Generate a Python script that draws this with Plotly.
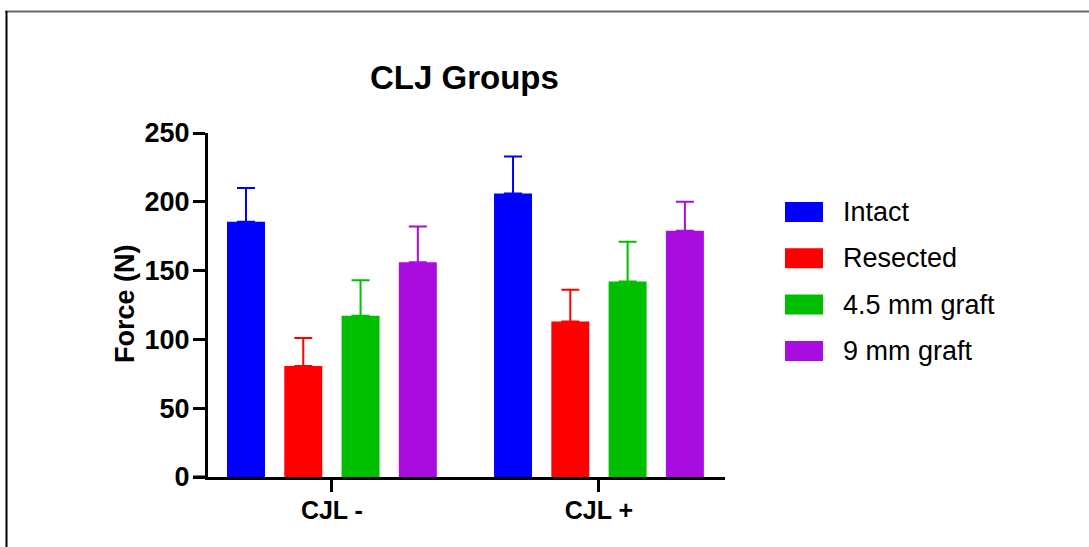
import plotly.graph_objects as go

categories = ["CJL -", "CJL +"]
series_names = ["Intact", "Resected", "4.5 mm graft", "9 mm graft"]
intact = [185.5, 206.0]
resected = [80.7, 113.0]
graft_45 = [117.2, 142.0]
graft_9 = [156.0, 179.0]
intact_err = [24.5, 27.0]
resected_err = [20.3, 23.0]
graft_45_err = [25.8, 29.0]
graft_9_err = [26.0, 21.0]
y_ticks = [0, 50, 100, 150, 200, 250]

colors = ["#0000FF", "#FF0000", "#00BF00", "#A80CDF"]
values = [intact, resected, graft_45, graft_9]
errors = [intact_err, resected_err, graft_45_err, graft_9_err]

FONT = "Liberation Sans, Arial, Helvetica, sans-serif"

fig = go.Figure()
for name, col, v, e in zip(series_names, colors, values, errors):
    fig.add_trace(go.Bar(
        x=categories, y=v, name=name,
        marker=dict(color=col, line=dict(width=0)),
        error_y=dict(type="data", array=e, arrayminus=[0] * len(e), symmetric=False,
                     color=col, thickness=2, width=9),
        showlegend=False,
    ))

# geometry (pixels) of the plot area
L, R, T, B = 208, 725, 133, 477
W, H = R - L, B - T

def px(x):
    return (x - L) / W

def py(y):
    return (B - y) / H

shapes = []
annotations = []
# manual legend
for i, (name, col) in enumerate(zip(series_names, colors)):
    yc = 212 + i * 46.3
    shapes.append(dict(type="rect", xref="paper", yref="paper",
                       x0=px(785), x1=px(823), y0=py(yc + 10), y1=py(yc - 10),
                       fillcolor=col, line=dict(width=0)))
    annotations.append(dict(text=name, xref="paper", yref="paper", x=px(841), y=py(yc),
                            xanchor="left", yanchor="middle", showarrow=False,
                            font=dict(family=FONT, size=27, color="black")))

# x-axis extension to the left of the y axis
shapes.append(dict(type="line", xref="paper", yref="paper", x0=px(193), x1=0, y0=0, y1=0,
                   line=dict(color="black", width=3)))
# image border (top and left)
shapes.append(dict(type="line", xref="paper", yref="paper", x0=px(5), x1=px(1089),
                   y0=py(11.5), y1=py(11.5), line=dict(color="#666666", width=2)))
shapes.append(dict(type="line", xref="paper", yref="paper", x0=px(6.5), x1=px(6.5),
                   y0=py(11), y1=py(547), line=dict(color="black", width=2)))

# title
annotations.append(dict(text="CLJ Groups", xref="paper", yref="paper",
                        x=px(464), y=py(78), xanchor="center", yanchor="middle", showarrow=False,
                        font=dict(family=FONT, size=33, color="black", weight="bold")))
# y-axis title
annotations.append(dict(text="Force (N)", xref="paper", yref="paper", textangle=-90,
                        x=px(125), y=py(304), xanchor="center", yanchor="middle", showarrow=False,
                        font=dict(family=FONT, size=27, color="black", weight="bold")))

fig.update_layout(
    width=1089, height=547,
    margin=dict(l=L, r=1089 - R, t=T, b=547 - B, pad=0),
    paper_bgcolor="white", plot_bgcolor="white",
    barmode="group", bargap=0.142, bargroupgap=0.337,
    shapes=shapes, annotations=annotations,
    font=dict(family=FONT, color="black"),
    xaxis=dict(range=[-0.464, 1.472], showline=True, linecolor="black", linewidth=3,
               ticks="outside", ticklen=12, tickwidth=3, tickcolor="black",
               showgrid=False, zeroline=False, ticklabelstandoff=-3,
               tickfont=dict(family=FONT, size=25, color="black", weight="bold")),
    yaxis=dict(range=[0, 250], tickvals=y_ticks, showline=True, linecolor="black", linewidth=3,
               ticks="outside", ticklen=12, tickwidth=3, tickcolor="black",
               showgrid=False, zeroline=False, ticklabelstandoff=-2,
               tickfont=dict(family=FONT, size=27, color="black", weight="bold")),
)

fig.write_html("out.html", config={"displayModeBar": False},
               post_script="document.body.style.margin='0';document.body.style.padding='0';")
